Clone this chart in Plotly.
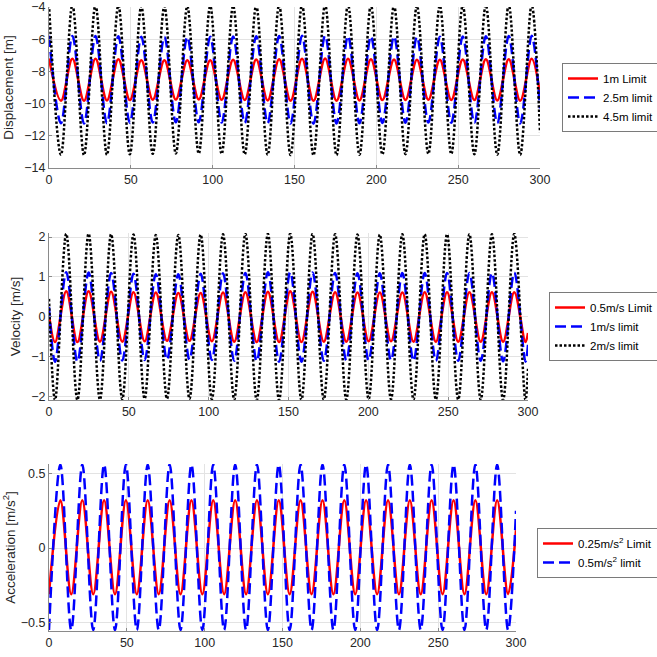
import plotly.graph_objects as go

# ---------------- data (extremum times and values) ----------------
t_disp = [0, 7.3, 14.3, 21.4, 28.4, 35.4, 42.4, 49.4, 56.4, 63.4, 70.5,
          77.5, 84.5, 91.5, 98.5, 105.5, 112.5, 119.6, 126.6, 133.6, 140.6,
          147.6, 154.6, 161.6, 168.7, 175.7, 182.7, 189.7, 196.7, 203.7, 210.8,
          217.8, 224.8, 231.8, 238.8, 245.8, 252.8, 259.9, 266.9, 273.9, 280.9,
          287.9, 294.9, 300]

disp_1m = [-7.20, -9.82, -7.22, -9.83,
           -7.22, -9.80, -7.24, -9.78,
           -7.30, -9.76, -7.30, -9.75,
           -7.30, -9.74, -7.30, -9.76,
           -7.28, -9.78, -7.26, -9.80,
           -7.24, -9.82, -7.22, -9.83,
           -7.20, -9.82, -7.22, -9.80,
           -7.24, -9.78, -7.26, -9.77,
           -7.28, -9.76, -7.28, -9.77,
           -7.26, -9.78, -7.25, -9.80,
           -7.24, -9.82, -7.22, -9.40]

disp_2_5m = [-5.78, -11.22, -5.80, -11.24,
             -5.80, -11.22, -5.82, -11.20,
             -5.85, -11.18, -5.86, -11.16,
             -5.86, -11.16, -5.85, -11.18,
             -5.84, -11.20, -5.82, -11.22,
             -5.80, -11.24, -5.78, -11.25,
             -5.78, -11.24, -5.80, -11.22,
             -5.82, -11.20, -5.83, -11.19,
             -5.85, -11.18, -5.85, -11.19,
             -5.84, -11.20, -5.82, -11.22,
             -5.80, -11.23, -5.79, -10.30]

disp_4_5m = [-3.85, -13.18, -3.86, -13.20,
             -3.88, -13.18, -3.90, -13.15,
             -3.95, -13.12, -3.96, -13.10,
             -3.96, -13.10, -3.95, -13.12,
             -3.93, -13.15, -3.90, -13.18,
             -3.88, -13.20, -3.86, -13.21,
             -3.85, -13.20, -3.86, -13.18,
             -3.88, -13.16, -3.90, -13.14,
             -3.92, -13.12, -3.92, -13.13,
             -3.90, -13.15, -3.88, -13.17,
             -3.87, -13.19, -3.86, -11.80]

t_vel = [0, 3.8, 10.8, 17.8, 24.8,
         31.9, 38.9, 45.9, 52.9, 59.9,
         66.9, 73.9, 81.0, 88.0, 95.0,
         102.0, 109.0, 116.0, 123.0, 130.1,
         137.1, 144.1, 151.1, 158.1, 165.1,
         172.1, 179.2, 186.2, 193.2, 200.2,
         207.2, 214.2, 221.3, 228.3, 235.3,
         242.3, 249.3, 256.3, 263.3, 270.4,
         277.4, 284.4, 291.4, 298.4, 300]

vel_0_5 = [0.05, -0.63, 0.64, -0.63, 0.64,
           -0.62, 0.63, -0.62, 0.62, -0.61,
           0.61, -0.60, 0.60, -0.60, 0.60,
           -0.61, 0.61, -0.62, 0.62, -0.63,
           0.63, -0.63, 0.64, -0.63, 0.63,
           -0.62, 0.62, -0.62, 0.61, -0.61,
           0.61, -0.61, 0.61, -0.62, 0.62,
           -0.62, 0.62, -0.62, 0.62, -0.62,
           0.62, -0.62, 0.62, -0.63, -0.40]

vel_1 = [0.25, -1.12, 1.12, -1.12, 1.11,
         -1.10, 1.10, -1.09, 1.08, -1.08,
         1.07, -1.07, 1.07, -1.07, 1.08,
         -1.08, 1.09, -1.10, 1.10, -1.11,
         1.12, -1.12, 1.12, -1.12, 1.11,
         -1.10, 1.10, -1.09, 1.09, -1.09,
         1.09, -1.09, 1.10, -1.10, 1.10,
         -1.10, 1.10, -1.10, 1.10, -1.10,
         1.10, -1.11, 1.11, -1.12, -0.70]

vel_2 = [0.45, -2.08, 2.08, -2.08, 2.08,
         -2.07, 2.07, -2.06, 2.06, -2.05,
         2.05, -2.05, 2.05, -2.05, 2.06,
         -2.06, 2.07, -2.07, 2.08, -2.08,
         2.08, -2.08, 2.08, -2.08, 2.08,
         -2.07, 2.07, -2.07, 2.06, -2.06,
         2.06, -2.06, 2.07, -2.07, 2.07,
         -2.07, 2.07, -2.07, 2.07, -2.07,
         2.07, -2.08, 2.08, -2.08, -1.30]

t_acc = [0, 7.3, 14.3, 21.4, 28.4, 35.4, 42.4, 49.4, 56.4, 63.4, 70.5,
         77.5, 84.5, 91.5, 98.5, 105.5, 112.5, 119.6, 126.6, 133.6, 140.6,
         147.6, 154.6, 161.6, 168.7, 175.7, 182.7, 189.7, 196.7, 203.7, 210.8,
         217.8, 224.8, 231.8, 238.8, 245.8, 252.8, 259.9, 266.9, 273.9, 280.9,
         287.9, 294.9, 300]

acc_0_25 = [-0.31, 0.32, -0.31, 0.32,
            -0.31, 0.32, -0.31, 0.32,
            -0.31, 0.32, -0.31, 0.32,
            -0.31, 0.32, -0.31, 0.32,
            -0.31, 0.32, -0.31, 0.32,
            -0.31, 0.32, -0.31, 0.32,
            -0.31, 0.32, -0.31, 0.32,
            -0.31, 0.32, -0.31, 0.32,
            -0.31, 0.32, -0.31, 0.32,
            -0.31, 0.32, -0.31, 0.32,
            -0.31, 0.32, -0.31, 0.12]

acc_0_5 = [-0.55, 0.56, -0.55, 0.56,
           -0.55, 0.56, -0.55, 0.56,
           -0.55, 0.56, -0.55, 0.56,
           -0.55, 0.56, -0.55, 0.56,
           -0.55, 0.56, -0.55, 0.56,
           -0.55, 0.56, -0.55, 0.56,
           -0.55, 0.56, -0.55, 0.56,
           -0.55, 0.56, -0.55, 0.56,
           -0.55, 0.56, -0.55, 0.56,
           -0.55, 0.56, -0.55, 0.56,
           -0.55, 0.56, -0.55, 0.25]

x_ticks = [0, 50, 100, 150, 200, 250, 300]

# ---------------- figure ----------------
W = H = 657
FONT = "Arial, Liberation Sans, sans-serif"
RED, BLUE, BLACK = "#ff0000", "#0000ff", "#000000"
LW = 2.5
DASH = "11px,5px"
DOT = "2.5px,2px"

fig = go.Figure()

def add(x, y, name, color, dash, xa, ya, leg):
    fig.add_trace(go.Scatter(
        x=x, y=y, name=name, mode="lines",
        line=dict(color=color, width=LW, dash=dash, shape="spline", smoothing=1),
        xaxis=xa, yaxis=ya, legend=leg))

add(t_disp, disp_1m, "1m Limit", RED, "solid", "x", "y", "legend")
add(t_disp, disp_2_5m, "2.5m limit", BLUE, DASH, "x", "y", "legend")
add(t_disp, disp_4_5m, "4.5m limit", BLACK, DOT, "x", "y", "legend")

add(t_vel, vel_0_5, "0.5m/s Limit", RED, "solid", "x2", "y2", "legend2")
add(t_vel, vel_1, "1m/s limit", BLUE, DASH, "x2", "y2", "legend2")
add(t_vel, vel_2, "2m/s limit", BLACK, DOT, "x2", "y2", "legend2")

add(t_acc, acc_0_25, "0.25m/s<sup>2</sup> Limit", RED, "solid", "x3", "y3", "legend3")
add(t_acc, acc_0_5, "0.5m/s<sup>2</sup> limit", BLUE, DASH, "x3", "y3", "legend3")

def px(v):
    return v / W

def py(v):
    return 1 - v / H

axis_common = dict(
    showgrid=True, gridcolor="#e3e3e3", gridwidth=1,
    showline=True, linecolor="#8a8a8a", linewidth=1,
    ticks="inside", ticklen=3, tickcolor="#8a8a8a",
    zeroline=False, mirror=False, ticklabeloverflow="allow",
    tickfont=dict(family=FONT, size=12.5, color="#262626"),
    title_font=dict(family=FONT, size=13.5, color="#262626"),
)

xa = dict(axis_common, range=[0, 300], tickvals=x_ticks)

leg_common = dict(
    xanchor="left", yanchor="top", bgcolor="white",
    bordercolor="#7a7a7a", borderwidth=1,
    font=dict(family=FONT, size=11.5, color="#000000"),
    tracegroupgap=0, itemwidth=30,
)

fig.update_layout(
    width=W, height=H,
    margin=dict(l=0, r=0, t=0, b=0, autoexpand=False),
    paper_bgcolor="white", plot_bgcolor="white",
    showlegend=True,
    xaxis=dict(xa, domain=[px(49), px(540)], anchor="y"),
    yaxis=dict(axis_common, domain=[py(168), py(7)], anchor="x",
               range=[-14, -4], tickvals=[-14, -12, -10, -8, -6, -4],
               title=dict(text="Displacement [m]", standoff=7)),
    xaxis2=dict(xa, domain=[px(49), px(528)], anchor="y2"),
    yaxis2=dict(axis_common, domain=[py(400), py(233)], anchor="x2",
                range=[-2.08, 2.1], tickvals=[-2, -1, 0, 1, 2],
                title=dict(text="Velocity [m/s]", standoff=7)),
    xaxis3=dict(xa, domain=[px(49), px(516)], anchor="y3"),
    yaxis3=dict(axis_common, domain=[py(631), py(464)], anchor="x3",
                range=[-0.557, 0.564], tickvals=[-0.5, 0, 0.5],
                title=dict(text="Acceleration [m/s<sup>2</sup>]", standoff=7)),
    legend=dict(leg_common, x=px(562), y=py(63)),
    legend2=dict(leg_common, x=px(549), y=py(292)),
    legend3=dict(leg_common, x=px(537), y=py(528)),
)

fig.write_html("out.html")
